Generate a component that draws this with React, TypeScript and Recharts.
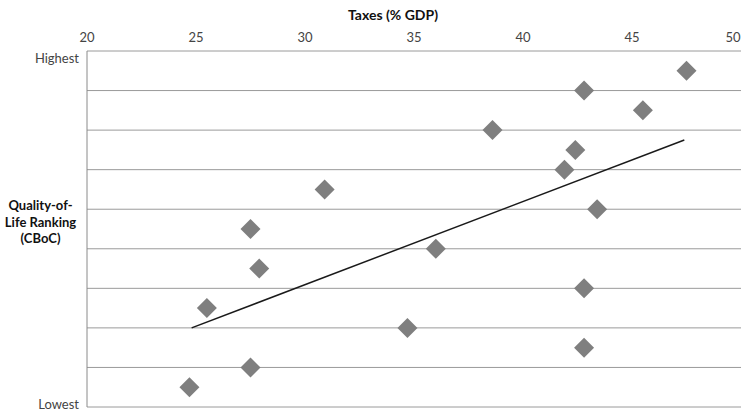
import React from "react";
import {
  ComposedChart,
  Scatter,
  XAxis,
  YAxis,
  CartesianGrid,
  ReferenceLine,
} from "recharts";

const taxes = [47.5, 42.8, 45.5, 38.6, 42.4, 41.9, 30.9, 43.4, 27.5, 36.0, 27.9, 42.8, 25.5, 34.7, 42.8, 27.5, 24.7];
const ranks = [1, 2, 3, 4, 5, 6, 7, 8, 9, 10, 11, 12, 13, 14, 15, 16, 17];
const xTicks = [20, 25, 30, 35, 40, 45, 50];
const yTicks = [0, 2, 4, 6, 8, 10, 12, 14, 16, 18];
const yTickLabels: Record<number, string> = { 0: "Highest", 18: "Lowest" };
const trendX = [24.8, 47.4];
const trendY = [14, 4.5];

const points = taxes.map((t, i) => ({ tax: t, rank: ranks[i] }));

const FONT = "Lato, 'Open Sans', sans-serif";

const Diamond = (props: any) => {
  const { cx, cy } = props;
  const r = 10;
  return (
    <path
      d={`M${cx},${cy - r} L${cx + r},${cy} L${cx},${cy + r} L${cx - r},${cy} Z`}
      fill="#7f7f7f"
    />
  );
};

const YTick = (props: any) => {
  const { x, y, payload } = props;
  const label = yTickLabels[payload.value] ?? "";
  if (!label) return null;
  const dy = payload.value === 0 ? 12 : 2;
  return (
    <text x={x} y={y + dy} textAnchor="end" fontSize={13} fill="#444" fontFamily={FONT}>
      {label}
    </text>
  );
};

const XTick = (props: any) => {
  const { x, payload } = props;
  const dx = payload.value === 50 ? -8 : 0;
  return (
    <text x={x + dx} y={42} textAnchor="middle" fontSize={13} fill="#444" fontFamily={FONT}>
      {payload.value}
    </text>
  );
};

export default function App() {
  return (
    <div style={{ position: "absolute", left: 0, top: 0, width: 750, height: 416, background: "#fff", fontFamily: FONT }}>
      <div
        style={{
          position: "absolute",
          left: 193,
          width: 400,
          top: 6,
          textAlign: "center",
          fontWeight: 700,
          fontSize: 14,
          color: "#111",
        }}
      >
        Taxes (% GDP)
      </div>
      <div
        style={{
          position: "absolute",
          left: 0,
          width: 81,
          top: 197,
          textAlign: "center",
          fontWeight: 700,
          fontSize: 13,
          lineHeight: "16.5px",
          color: "#111",
        }}
      >
        Quality-of-
        <br />
        Life Ranking
        <br />
        (CBoC)
      </div>
      <ComposedChart
        width={750}
        height={416}
        margin={{ top: 1, right: 9, bottom: 9, left: 0 }}
      >
        <CartesianGrid vertical={false} stroke="#9a9a9a" />
        <XAxis
          type="number"
          dataKey="tax"
          orientation="top"
          domain={[20, 50]}
          ticks={xTicks}
          height={50}
          axisLine={false}
          tickLine={false}
          tick={<XTick />}
          interval={0}
        />
        <YAxis
          type="number"
          dataKey="rank"
          domain={[0, 18]}
          ticks={yTicks}
          reversed
          width={87}
          axisLine={{ stroke: "#8a8a8a" }}
          tickLine={false}
          tick={<YTick />}
          interval={0}
        />
        <ReferenceLine
          segment={[
            { x: trendX[0], y: trendY[0] },
            { x: trendX[1], y: trendY[1] },
          ]}
          stroke="#1a1a1a"
          strokeWidth={1.5}
          ifOverflow="visible"
        />
        <Scatter data={points} shape={<Diamond />} isAnimationActive={false} />
      </ComposedChart>
    </div>
  );
}
